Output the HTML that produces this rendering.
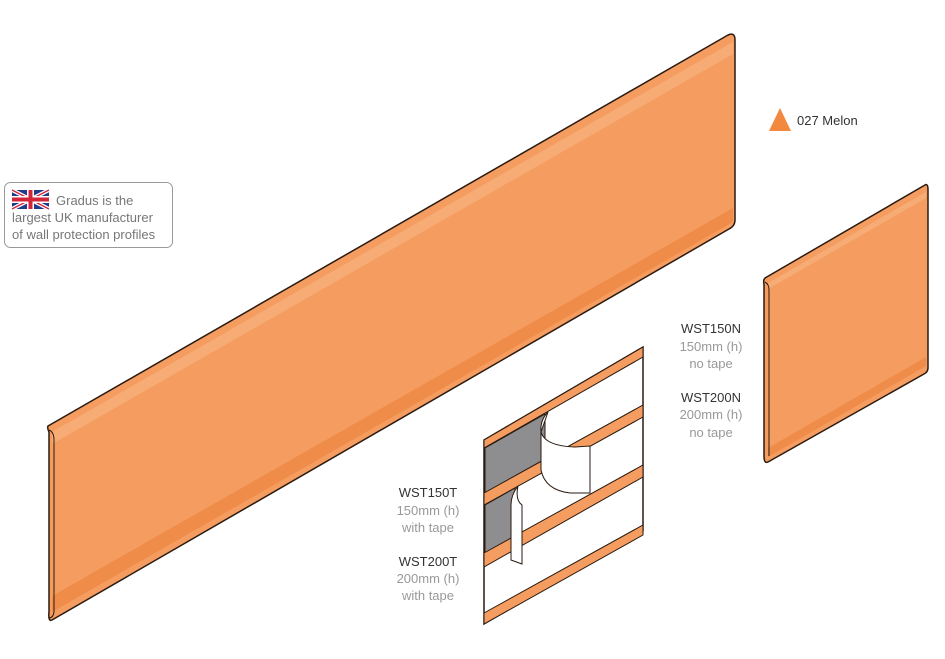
<!DOCTYPE html>
<html><head><meta charset="utf-8"><style>
body{margin:0;background:#fff;width:945px;height:654px;overflow:hidden;font-family:"Liberation Sans",sans-serif}
</style></head><body>
<svg width="945" height="654" viewBox="0 0 945 654" xmlns="http://www.w3.org/2000/svg">
<!-- large panel -->
<path d="M48,426 L728,35 Q735,32 735,40 L735,220 Q735,226 729,229 L52,620 Q48,622 49,612 L49,432 Q47,428 48,426 Z" fill="#f59d60" stroke="#2a1a10" stroke-width="1.5"/>
<path d="M52,432 L733,42 L733,54 L52,444 Z" fill="#f8b07c" opacity="0.8"/>
<path d="M52,596 L733,208 L733,222 L52,612 Z" fill="#ef8a45" opacity="0.85"/>
<path d="M49,430 Q54,432 54,440 L54,612 Q53,618 49,618" fill="none" stroke="#2a1a10" stroke-width="1"/>
<!-- right panel -->
<path d="M765,278 L925,185 Q928,183 928,190 L928,368 Q928,372 924,374 L768,462 Q764,464 764,456 L764,284 Q763,280 765,278 Z" fill="#f59d60" stroke="#2a1a10" stroke-width="1.5"/>
<path d="M768,283 L926,192 L926,198 L768,289 Z" fill="#f8b07c" opacity="0.8"/>
<path d="M768,448 L926,357 L926,366 L768,457 Z" fill="#ef8a45" opacity="0.85"/>
<path d="M765,282 Q769,284 769,290 L769,456" fill="none" stroke="#2a1a10" stroke-width="1"/>
<!-- tape panel -->
<path d="M484,440 L643,347 L643,531 L484,624 Z" fill="#fff" stroke="#2a1a10" stroke-width="1.5"/>
<path d="M485,448 L545,414 L545,459 L485,493 Z" fill="#8e8e90" stroke="#2a1a10" stroke-width="1"/>
<path d="M485,505 L515,488 L515,536 L485,553 Z" fill="#8e8e90" stroke="#2a1a10" stroke-width="1"/>
<g stroke="#2a1a10" stroke-width="1">
<path d="M484,440 L643,347 L643,357 L484,448 Z" fill="#f59d60"/>
<path d="M484,493 L643,405 L643,417 L484,505 Z" fill="#f59d60"/>
<path d="M484,553 L643,465 L643,477 L484,567 Z" fill="#f59d60"/>
<path d="M484,613 L643,525 L643,535 L484,624 Z" fill="#f59d60"/>
</g>
<path d="M548,412 Q540,420 541,432 Q545,446 575,447 L590,446 L590,493 L570,493 Q545,490 541,470 L541,432 Z" fill="#fff" stroke="#2a1a10" stroke-width="1"/>
<path d="M518,486 Q511,495 511,505 L511,560 L522,564 L522,505 Q515,500 518,486 Z" fill="#fff" stroke="#2a1a10" stroke-width="1"/>
<!-- melon triangle -->
<polygon points="780,108 791,131 769,131" fill="#f3883f"/>
<text x="797" y="125" font-size="13" fill="#333">027 Melon</text>
<!-- UK box -->
<rect x="4.5" y="182.5" width="168" height="65" rx="6" fill="#fff" stroke="#999"/>
<g>
<rect x="12" y="190" width="37" height="19" fill="#1f3b8a"/>
<path d="M12,190 L49,209 M49,190 L12,209" stroke="#fff" stroke-width="4"/>
<path d="M12,190 L49,209 M49,190 L12,209" stroke="#d3253a" stroke-width="1.3"/>
<rect x="12" y="196" width="37" height="7" fill="#fff"/><rect x="27" y="190" width="7" height="19" fill="#fff"/>
<rect x="12" y="197.5" width="37" height="4" fill="#d3253a"/><rect x="28.5" y="190" width="4" height="19" fill="#d3253a"/>
</g>
<g font-size="13" fill="#777">
<text x="56" y="205">Gradus is the</text>
<text x="12" y="222">largest UK manufacturer</text>
<text x="12" y="239">of wall protection profiles</text>
</g>
<g font-size="13" text-anchor="middle">
<text x="711" y="333" fill="#333">WST150N</text>
<text x="711" y="351" fill="#999">150mm (h)</text>
<text x="711" y="368" fill="#999">no tape</text>
<text x="711" y="402" fill="#333">WST200N</text>
<text x="711" y="419" fill="#999">200mm (h)</text>
<text x="711" y="437" fill="#999">no tape</text>
<text x="428" y="497" fill="#333">WST150T</text>
<text x="428" y="515" fill="#999">150mm (h)</text>
<text x="428" y="532" fill="#999">with tape</text>
<text x="428" y="566" fill="#333">WST200T</text>
<text x="428" y="583" fill="#999">200mm (h)</text>
<text x="428" y="600" fill="#999">with tape</text>
</g>
</svg>
</body></html>
